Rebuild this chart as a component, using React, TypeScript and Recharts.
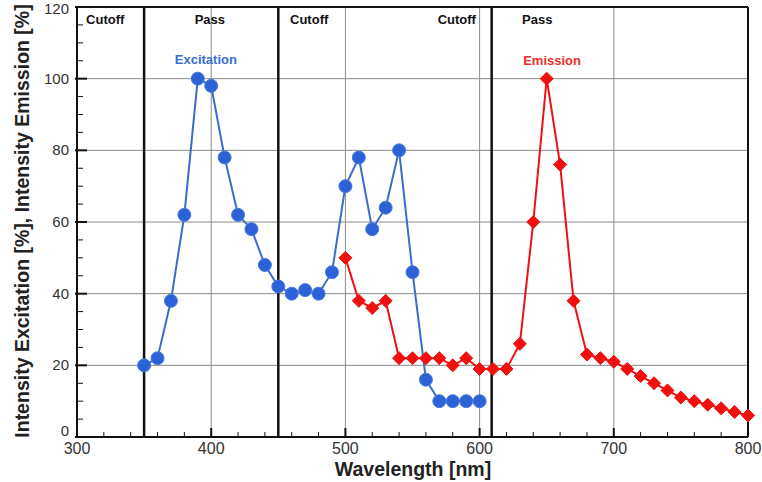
import { LineChart, Line, XAxis, YAxis, ReferenceLine, ReferenceDot } from "recharts";

const EXCITATION_NM = [350, 360, 370, 380, 390, 400, 410, 420, 430, 440, 450, 460, 470, 480, 490, 500, 510, 520, 530, 540, 550, 560, 570, 580, 590, 600];
const EXCITATION_PCT = [20, 22, 38, 62, 100, 98, 78, 62, 58, 48, 42, 40, 41, 40, 46, 70, 78, 58, 64, 80, 46, 16, 10, 10, 10, 10];

const EMISSION_NM = [500, 510, 520, 530, 540, 550, 560, 570, 580, 590, 600, 610, 620, 630, 640, 650, 660, 670, 680, 690, 700, 710, 720, 730, 740, 750, 760, 770, 780, 790, 800];
const EMISSION_PCT = [50, 38, 36, 38, 22, 22, 22, 22, 20, 22, 19, 19, 19, 26, 60, 100, 76, 38, 23, 22, 21, 19, 17, 15, 13, 11, 10, 9, 8, 7, 6];

const X_LABELS = [300, 400, 500, 600, 700, 800];
const Y_LABELS = [0, 20, 40, 60, 80, 100, 120];
const FILTER_EDGES = [350, 450, 609];

const REGION_LABELS = [
  { text: "Cutoff", x: 321, y: 116.5 },
  { text: "Pass", x: 399, y: 116.5 },
  { text: "Cutoff", x: 473, y: 116.5 },
  { text: "Cutoff", x: 583, y: 116.5 },
  { text: "Pass", x: 643, y: 116.5 },
];

const SERIES_LABELS = [
  { text: "Excitation", x: 396, y: 105.3, color: "#3a6fd0" },
  { text: "Emission", x: 654, y: 105, color: "#e8302a" },
];

// minor ticks every 20 nm and every 5 %
const X_TICKS = Array.from({ length: 26 }, (_, i) => 300 + i * 20);
const Y_TICKS = Array.from({ length: 25 }, (_, i) => i * 5);

const FONT = "'Liberation Sans', Arial, sans-serif";
const BLUE_LINE = "#3b6cc9";
const BLUE_DOT = "#2c62d6";
const RED = "#f01010";
const GRID = "#8a8a8a";
const INK = "#111";

const excitation = EXCITATION_NM.map((nm, i) => ({ nm, value: EXCITATION_PCT[i] }));
const emission = EMISSION_NM.map((nm, i) => ({ nm, value: EMISSION_PCT[i] }));

function XTick({ x, y, payload }: any) {
  const v = payload.value;
  const major = X_LABELS.includes(v);
  return (
    <g>
      <line x1={x} x2={x} y1={y} y2={y - (major ? 9 : 5)} stroke={INK} strokeWidth={major ? 2 : 1} />
      {major && (
        <text x={x} y={y + 17} textAnchor="middle" fontSize={16} fill="#333" fontFamily={FONT}>
          {v}
        </text>
      )}
    </g>
  );
}

function YTick({ x, y, payload }: any) {
  const v = payload.value;
  const major = Y_LABELS.includes(v);
  // nudge the end labels so they stay on the canvas / off the x labels
  const shift = v === 120 ? 2 : v === 0 ? -6 : 0;
  return (
    <g>
      <line x1={x - (major ? 2 : 0)} x2={x + (major ? 10 : 6)} y1={y} y2={y} stroke={INK} strokeWidth={major ? 2 : 1} />
      {major && (
        <text x={x - 8} y={y + 5 + shift} textAnchor="end" fontSize={15} fill="#333" fontFamily={FONT}>
          {v}
        </text>
      )}
    </g>
  );
}

function Diamond({ cx, cy }: any) {
  if (cx == null || cy == null) return null;
  const s = 6.5;
  return <polygon points={`${cx},${cy - s} ${cx + s},${cy} ${cx},${cy + s} ${cx - s},${cy}`} fill={RED} stroke={RED} strokeWidth={1} />;
}

export default function App() {
  return (
    <div style={{ position: "absolute", left: 0, top: 0, width: 762, height: 482, background: "#fff" }}>
      <LineChart width={762} height={482} margin={{ top: 7, right: 14, bottom: 0, left: 0 }}>
        <XAxis
          type="number"
          dataKey="nm"
          domain={[300, 800]}
          ticks={X_TICKS}
          interval={0}
          tickSize={0}
          tickMargin={0}
          tickLine={false}
          tick={<XTick />}
          height={45}
          axisLine={{ stroke: INK, strokeWidth: 2 }}
          label={{
            content: () => (
              <text x={413} y={476} textAnchor="middle" fontSize={19.5} fontWeight="bold" fill="#222" fontFamily={FONT}>
                Wavelength [nm]
              </text>
            ),
          }}
        />
        <YAxis
          type="number"
          domain={[0, 120]}
          ticks={Y_TICKS}
          interval={0}
          tickSize={0}
          tickMargin={0}
          tickLine={false}
          tick={<YTick />}
          width={77}
          axisLine={{ stroke: INK, strokeWidth: 2 }}
          label={{
            content: () => (
              <text
                x={24}
                y={221}
                transform="rotate(-90 24 221)"
                textAnchor="middle"
                dominantBaseline="middle"
                fontSize={19.5}
                fontWeight="bold"
                fill="#222"
                fontFamily={FONT}
              >
                Intensity Excitation [%], Intensity Emission [%]
              </text>
            ),
          }}
        />
        {[400, 500, 600, 700].map((v) => (
          <ReferenceLine key={`gx${v}`} x={v} stroke={GRID} strokeWidth={1} />
        ))}
        {[20, 40, 60, 80, 100].map((v) => (
          <ReferenceLine key={`gy${v}`} y={v} stroke={GRID} strokeWidth={1} />
        ))}
        {FILTER_EDGES.map((v) => (
          <ReferenceLine key={`f${v}`} x={v} stroke={INK} strokeWidth={2.5} />
        ))}
        <ReferenceLine y={120} stroke={INK} strokeWidth={2} />
        <ReferenceLine x={800} stroke={INK} strokeWidth={2} />
        {REGION_LABELS.map((l, i) => (
          <ReferenceDot
            key={`r${i}`}
            x={l.x}
            y={l.y}
            r={0}
            stroke="none"
            fill="none"
            label={{ value: l.text, position: "center", fill: INK, fontSize: 13, fontWeight: "bold", fontFamily: FONT }}
          />
        ))}
        {SERIES_LABELS.map((l, i) => (
          <ReferenceDot
            key={`s${i}`}
            x={l.x}
            y={l.y}
            r={0}
            stroke="none"
            fill="none"
            label={{ value: l.text, position: "center", fill: l.color, fontSize: 13, fontWeight: "bold", fontFamily: FONT }}
          />
        ))}
        <Line
          data={excitation}
          dataKey="value"
          type="linear"
          stroke={BLUE_LINE}
          strokeWidth={2}
          dot={{ r: 6.5, fill: BLUE_DOT, stroke: "#4a7be0", strokeWidth: 1 }}
          isAnimationActive={false}
        />
        <Line
          data={emission}
          dataKey="value"
          type="linear"
          stroke={RED}
          strokeWidth={2}
          dot={<Diamond />}
          isAnimationActive={false}
        />
      </LineChart>
    </div>
  );
}
